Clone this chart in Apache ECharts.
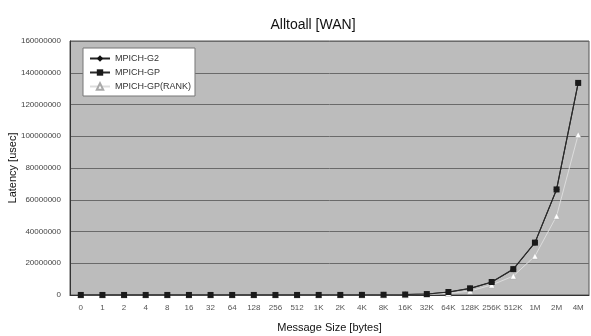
<!DOCTYPE html>
<html>
<head>
<meta charset="utf-8">
<script src="https://cdn.jsdelivr.net/npm/echarts@6/dist/echarts.min.js"></script>
<style>
  html, body { margin: 0; padding: 0; background: #fff; }
  #chart { width: 591px; height: 336px; }
</style>
</head>
<body>
<div id="chart"></div>
<script>
// message sizes (x axis)
var sizes = ['0', '1', '2', '4', '8', '16', '32', '64', '128', '256', '512',
  '1K', '2K', '4K', '8K', '16K', '32K', '64K', '128K', '256K', '512K', '1M', '2M', '4M'];
// latency in usec
var g2 = [30000, 30000, 30000, 30000, 30000, 30000, 30000, 30000, 30000, 30000, 30000,
  40000, 50000, 80000, 150000, 300000, 600000, 1800000, 4100000, 8100000, 16200000, 32900000, 66400000, 133500000];
var gp = [30000, 30000, 30000, 30000, 30000, 30000, 30000, 30000, 30000, 30000, 30000,
  40000, 50000, 80000, 150000, 300000, 600000, 1900000, 4200000, 8200000, 16300000, 33000000, 66500000, 133600000];
var gpRank = [20000, 20000, 20000, 20000, 20000, 20000, 20000, 20000, 20000, 20000, 20000,
  30000, 40000, 60000, 100000, 200000, 400000, 1000000, 2500000, 6300000, 11900000, 24500000, 49700000, 101000000];

var myChart = echarts.init(document.getElementById('chart'));
var option = {
  backgroundColor: '#fff',
  animation: false,
  title: {
    text: 'Alltoall [WAN]',
    left: 308,
    textAlign: 'center',
    top: 13,
    textStyle: { fontFamily: 'Liberation Sans', fontSize: 14, fontWeight: 'normal', color: '#111' }
  },
  legend: {
    left: 83,
    top: 48,
    orient: 'vertical',
    itemGap: 5,
    itemWidth: 20,
    itemHeight: 8,
    padding: [6, 4, 5, 6],
    backgroundColor: '#fff',
    borderColor: '#777',
    borderWidth: 1,
    borderRadius: 0,
    textStyle: { fontFamily: 'Liberation Sans', fontSize: 9, color: '#333' },
    data: ['MPICH-G2', 'MPICH-GP', 'MPICH-GP(RANK)']
  },
  grid: {
    left: 70, right: 2, top: 41, bottom: 41,
    outerBoundsMode: 'none',
    containLabel: false,
    show: true,
    backgroundColor: '#bcbcbc',
    borderColor: '#555',
    borderWidth: 1
  },
  xAxis: {
    type: 'category',
    data: sizes,
    name: 'Message Size [bytes]',
    nameLocation: 'middle',
    nameGap: 27,
    nameMoveOverlap: false,
    nameTextStyle: { fontFamily: 'Liberation Sans', fontSize: 11, color: '#111' },
    axisLine: { lineStyle: { color: '#333' } },
    axisTick: { show: false },
    axisLabel: { interval: 0, fontFamily: 'Liberation Sans', fontSize: 8, color: '#555', margin: 9 }
  },
  yAxis: {
    type: 'value',
    min: 0,
    max: 160000000,
    interval: 20000000,
    name: 'Latency [usec]',
    nameLocation: 'middle',
    nameGap: 52,
    nameMoveOverlap: false,
    nameTextStyle: { fontFamily: 'Liberation Sans', fontSize: 11, color: '#111' },
    axisLine: { show: true, lineStyle: { color: '#333' } },
    axisTick: { show: false },
    axisLabel: {
      fontFamily: 'Liberation Sans', fontSize: 8, color: '#444', margin: 9,
      formatter: function (v) { return String(v); }
    },
    splitLine: { lineStyle: { color: '#6a6a6a', width: 1 } }
  },
  series: [
    {
      name: 'MPICH-G2',
      type: 'line',
      data: g2,
      symbol: 'diamond',
      symbolSize: 6,
      itemStyle: { color: '#111' },
      lineStyle: { color: '#222', width: 1 },
      z: 1
    },
    {
      name: 'MPICH-GP',
      type: 'line',
      data: gp,
      symbol: 'rect',
      symbolSize: 6,
      itemStyle: { color: '#1a1a1a' },
      lineStyle: { color: '#2a2a2a', width: 1.2 },
      z: 3
    },
    {
      name: 'MPICH-GP(RANK)',
      type: 'line',
      data: gpRank,
      symbol: 'triangle',
      symbolSize: 6,
      itemStyle: { color: '#fff', borderColor: '#aaa', borderWidth: 0.5 },
      lineStyle: { color: '#dcdcdc', width: 1 },
      z: 2
    }
  ]
};
myChart.setOption(option);
</script>
</body>
</html>
